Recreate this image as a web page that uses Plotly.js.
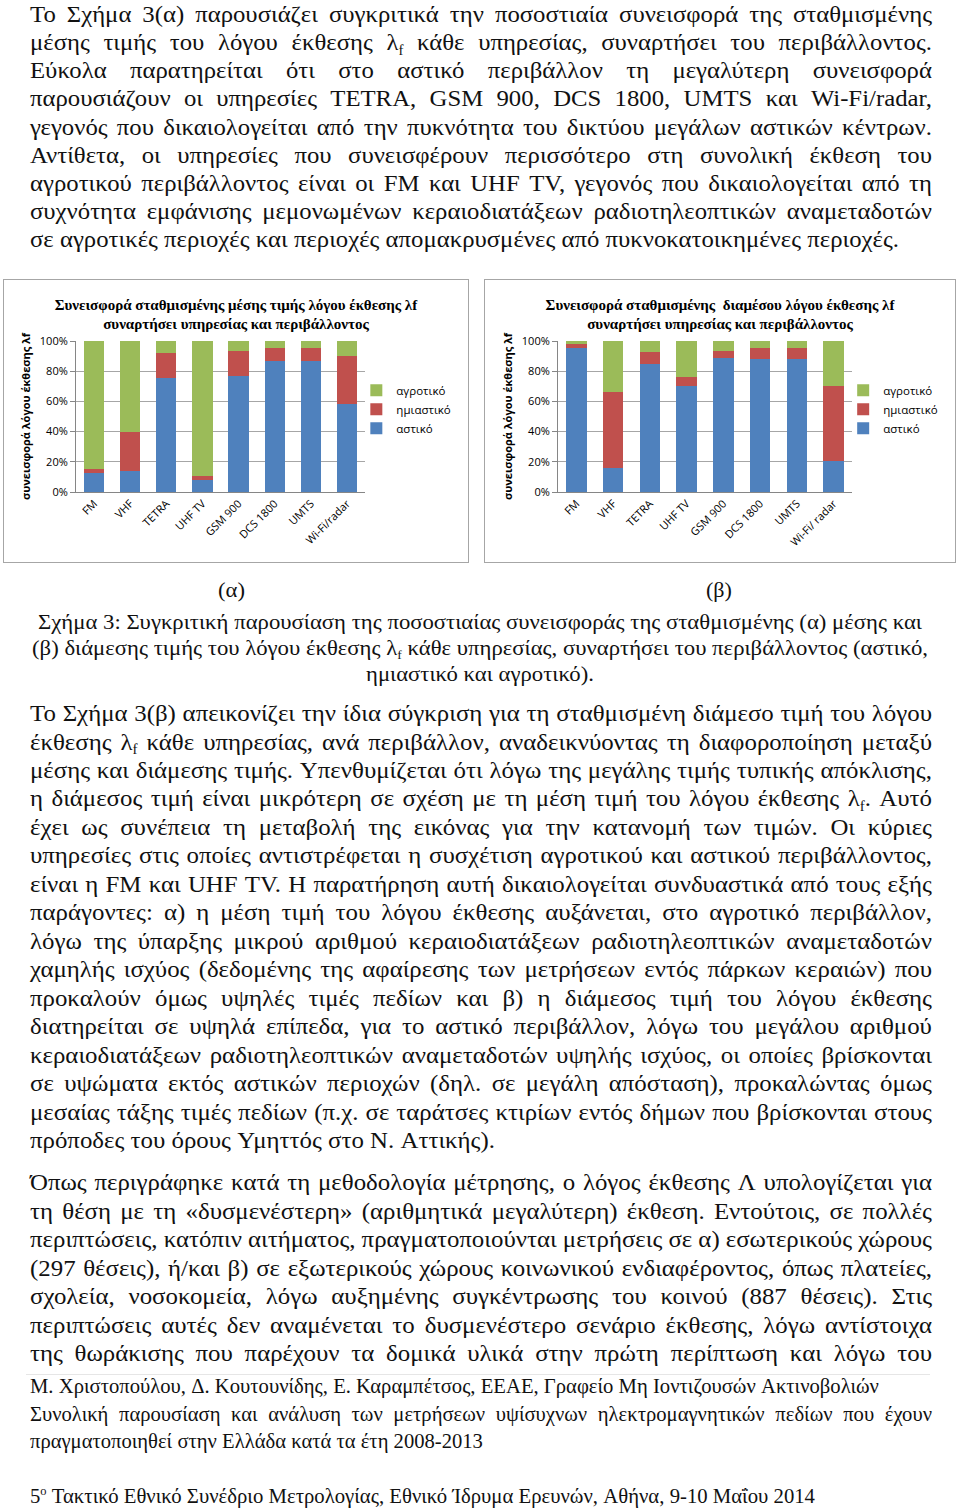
<!DOCTYPE html>
<html>
<head>
<meta charset="utf-8">
<script src="https://cdn.plot.ly/plotly-3.0.1.min.js"></script>
<style>
html,body{margin:0;padding:0;background:#fff;}
#page{position:relative;width:960px;height:1511px;overflow:hidden;background:#fff;}
#txt{position:absolute;left:0;top:0;width:960px;height:1511px;pointer-events:none;}
.chart{position:absolute;top:279px;height:282px;border:1px solid #a6a6a6;}
#chartA{left:3px;width:464px;}
#chartB{left:484px;width:470px;}
</style>
</head>
<body>
<div id="page">
<svg id="txt" xmlns="http://www.w3.org/2000/svg" width="960" height="1511"></svg>
<div id="chartA" class="chart"></div>
<div id="chartB" class="chart"></div>
</div>
<script>
// ---------------- chart data ----------------
const categoriesA = ['FM', 'VHF', 'TETRA', 'UHF TV', 'GSM 900', 'DCS 1800', 'UMTS', 'Wi-Fi/radar'];
const categoriesB = ['FM', 'VHF', 'TETRA', 'UHF TV', 'GSM 900', 'DCS 1800', 'UMTS', 'Wi-Fi/ radar'];
const seriesNames = ['αστικό', 'ημιαστικό', 'αγροτικό'];
// (α) weighted mean exposure ratio – contribution per environment (%)
const urbanA = [12.8, 13.7, 75.2, 8.0, 77.0, 86.7, 86.7, 58.0];
const semiA  = [2.7, 26.1, 17.1, 2.6, 16.4, 8.9, 8.9, 32.0];
const ruralA = [84.5, 60.2, 7.7, 89.4, 6.6, 4.4, 4.4, 10.0];
// (β) weighted median exposure ratio – contribution per environment (%)
const urbanB = [95.4, 15.7, 84.5, 70.4, 88.5, 88.0, 88.0, 20.8];
const semiB  = [2.4, 50.3, 8.0, 5.7, 4.9, 7.6, 7.1, 49.6];
const ruralB = [2.2, 34.0, 7.5, 23.9, 6.6, 4.4, 4.9, 29.6];
const yTickVals = [0, 20, 40, 60, 80, 100];
const yTickText = ['0%', '20%', '40%', '60%', '80%', '100%'];
const titleA = 'Συνεισφορά σταθμισμένης μέσης τιμής λόγου έκθεσης λf<br>συναρτήσει υπηρεσίας και περιβάλλοντος';
const titleB = 'Συνεισφορά σταθμισμένης  διαμέσου λόγου έκθεσης λf<br>συναρτήσει υπηρεσίας και περιβάλλοντος';
const yTitle = 'συνεισφορά λόγου έκθεσης λf';

const colors = ['#4F81BD', '#C0504D', '#9BBB59'];

function traces(cats, u, s, r) {
  return [u, s, r].map((vals, i) => ({
    type: 'bar', x: cats, y: vals, name: seriesNames[i],
    marker: {color: colors[i], line: {width: 0}},
    hoverinfo: 'x+y+name'
  }));
}

function layout(title, w, ml, pw) {
  return {
    width: w, height: 282,
    margin: {l: ml, r: w - ml - pw, t: 61, b: 70, pad: 0},
    paper_bgcolor: '#fff', plot_bgcolor: '#fff',
    barmode: 'stack', bargap: 0.44,
    font: {family: 'Open Sans, sans-serif', size: 11, color: '#000'},
    title: {text: '<b>' + title + '</b>', x: 0.5, xanchor: 'center', xref: 'container',
            y: 0.895, yanchor: 'top', yref: 'container',
            font: {family: 'Liberation Serif, Times New Roman, serif', size: 15, color: '#000'}},
    xaxis: {type: 'category', tickangle: -45, showline: true, linecolor: '#868686', linewidth: 1,
            ticks: '', showgrid: false, tickfont: {size: 11}, automargin: false},
    yaxis: {range: [0, 100], tickmode: 'array', tickvals: yTickVals, ticktext: yTickText,
            showgrid: true, gridcolor: '#a6a6a6',
            gridwidth: 1, showline: true, linecolor: '#868686', ticks: 'outside', ticklen: 5,
            tickcolor: '#868686', zeroline: false, automargin: false, tickfont: {size: 11},
            title: {text: '<b>' + yTitle + '</b>', standoff: 6, font: {size: 11}}},
    legend: {x: 0.97, xanchor: 'left', y: 0.77, yanchor: 'top', traceorder: 'reversed',
             font: {size: 11.5}, bgcolor: 'rgba(0,0,0,0)', itemwidth: 30},
    showlegend: true
  };
}
const cfg = {staticPlot: true, displayModeBar: false};
Plotly.newPlot('chartA', traces(categoriesA, urbanA, semiA, ruralA), layout(titleA, 464, 72, 300), cfg);
Plotly.newPlot('chartB', traces(categoriesB, urbanB, semiB, ruralB), layout(titleB, 470, 73, 305), cfg);

// ---------------- page text ----------------
const FONT = 'Liberation Serif, Times New Roman, serif';
const lines = [
 // paragraph 1
 {g:'p1', m:'J', fs:24, y:21.8, t:'Το Σχήμα 3(α) παρουσιάζει συγκριτικά την ποσοστιαία συνεισφορά της σταθμισμένης'},
 {g:'p1', m:'J', fs:24, y:50.0, t:'μέσης τιμής του λόγου έκθεσης λ{f} κάθε υπηρεσίας, συναρτήσει του περιβάλλοντος.'},
 {g:'p1', m:'J', fs:24, y:78.2, t:'Εύκολα παρατηρείται ότι στο αστικό περιβάλλον τη μεγαλύτερη συνεισφορά'},
 {g:'p1', m:'J', fs:24, y:106.4, t:'παρουσιάζουν οι υπηρεσίες TETRA, GSM 900, DCS 1800, UMTS και Wi-Fi/radar,'},
 {g:'p1', m:'J', fs:24, y:134.6, t:'γεγονός που δικαιολογείται από την πυκνότητα του δικτύου μεγάλων αστικών κέντρων.'},
 {g:'p1', m:'J', fs:24, y:162.8, t:'Αντίθετα, οι υπηρεσίες που συνεισφέρουν περισσότερο στη συνολική έκθεση του'},
 {g:'p1', m:'J', fs:24, y:191.0, t:'αγροτικού περιβάλλοντος είναι οι FM και UHF TV, γεγονός που δικαιολογείται από τη'},
 {g:'p1', m:'J', fs:24, y:219.2, t:'συχνότητα εμφάνισης μεμονωμένων κεραιοδιατάξεων ραδιοτηλεοπτικών αναμεταδοτών'},
 {g:'p1', m:'L', fs:24, y:247.4, x0:30, x1:899, cal:true, t:'σε αγροτικές περιοχές και περιοχές απομακρυσμένες από πυκνοκατοικημένες περιοχές.'},
 // captions
 {g:'c', m:'C', fs:22, y:597, x0:218, x1:245, t:'(α)'},
 {g:'c', m:'C', fs:22, y:597, x0:706, x1:732, t:'(β)'},
 {g:'c', m:'C', fs:22, y:629, x0:38, x1:922, t:'Σχήμα 3: Συγκριτική παρουσίαση της ποσοστιαίας συνεισφοράς της σταθμισμένης (α) μέσης και'},
 {g:'c', m:'C', fs:22, y:655, x0:32, x1:928, t:'(β) διάμεσης τιμής του λόγου έκθεσης λ{f} κάθε υπηρεσίας, συναρτήσει του περιβάλλοντος (αστικό,'},
 {g:'c', m:'C', fs:22, y:681, x0:366, x1:594, t:'ημιαστικό και αγροτικό).'},
 // paragraph 2
 {g:'p2', m:'J', fs:24, y:721.0, t:'Το Σχήμα 3(β) απεικονίζει την ίδια σύγκριση για τη σταθμισμένη διάμεσο τιμή του λόγου'},
 {g:'p2', m:'J', fs:24, y:749.5, t:'έκθεσης λ{f} κάθε υπηρεσίας, ανά περιβάλλον, αναδεικνύοντας τη διαφοροποίηση μεταξύ'},
 {g:'p2', m:'J', fs:24, y:777.9, t:'μέσης και διάμεσης τιμής. Υπενθυμίζεται ότι λόγω της μεγάλης τιμής τυπικής απόκλισης,'},
 {g:'p2', m:'J', fs:24, y:806.4, t:'η διάμεσος τιμή είναι μικρότερη σε σχέση με τη μέση τιμή του λόγου έκθεσης λ{f}. Αυτό'},
 {g:'p2', m:'J', fs:24, y:834.9, t:'έχει ως συνέπεια τη μεταβολή της εικόνας για την κατανομή των τιμών. Οι κύριες'},
 {g:'p2', m:'J', fs:24, y:863.4, t:'υπηρεσίες στις οποίες αντιστρέφεται η συσχέτιση αγροτικού και αστικού περιβάλλοντος,'},
 {g:'p2', m:'J', fs:24, y:891.8, t:'είναι η FM και UHF TV. Η παρατήρηση αυτή δικαιολογείται συνδυαστικά από τους εξής'},
 {g:'p2', m:'J', fs:24, y:920.3, t:'παράγοντες: α) η μέση τιμή του λόγου έκθεσης αυξάνεται, στο αγροτικό περιβάλλον,'},
 {g:'p2', m:'J', fs:24, y:948.8, t:'λόγω της ύπαρξης μικρού αριθμού κεραιοδιατάξεων ραδιοτηλεοπτικών αναμεταδοτών'},
 {g:'p2', m:'J', fs:24, y:977.2, t:'χαμηλής ισχύος (δεδομένης της αφαίρεσης των μετρήσεων εντός πάρκων κεραιών) που'},
 {g:'p2', m:'J', fs:24, y:1005.7, t:'προκαλούν όμως υψηλές τιμές πεδίων και β) η διάμεσος τιμή του λόγου έκθεσης'},
 {g:'p2', m:'J', fs:24, y:1034.2, t:'διατηρείται σε υψηλά επίπεδα, για το αστικό περιβάλλον, λόγω του μεγάλου αριθμού'},
 {g:'p2', m:'J', fs:24, y:1062.6, t:'κεραιοδιατάξεων ραδιοτηλεοπτικών αναμεταδοτών υψηλής ισχύος, οι οποίες βρίσκονται'},
 {g:'p2', m:'J', fs:24, y:1091.1, t:'σε υψώματα εκτός αστικών περιοχών (δηλ. σε μεγάλη απόσταση), προκαλώντας όμως'},
 {g:'p2', m:'J', fs:24, y:1119.6, t:'μεσαίας τάξης τιμές πεδίων (π.χ. σε ταράτσες κτιρίων εντός δήμων που βρίσκονται στους'},
 {g:'p2', m:'L', fs:24, y:1148.0, x0:30, x1:495, cal:true, t:'πρόποδες του όρους Υμηττός στο Ν. Αττικής).'},
 // paragraph 3
 {g:'p2', m:'J', fs:24, y:1190.0, t:'Όπως περιγράφηκε κατά τη μεθοδολογία μέτρησης, ο λόγος έκθεσης Λ υπολογίζεται για'},
 {g:'p2', m:'J', fs:24, y:1218.5, t:'τη θέση με τη «δυσμενέστερη» (αριθμητικά μεγαλύτερη) έκθεση. Εντούτοις, σε πολλές'},
 {g:'p2', m:'J', fs:24, y:1247.0, t:'περιπτώσεις, κατόπιν αιτήματος, πραγματοποιούνται μετρήσεις σε α) εσωτερικούς χώρους'},
 {g:'p2', m:'J', fs:24, y:1275.5, t:'(297 θέσεις), ή/και β) σε εξωτερικούς χώρους κοινωνικού ενδιαφέροντος, όπως πλατείες,'},
 {g:'p2', m:'J', fs:24, y:1304.0, t:'σχολεία, νοσοκομεία, λόγω αυξημένης συγκέντρωσης του κοινού (887 θέσεις). Στις'},
 {g:'p2', m:'J', fs:24, y:1332.5, t:'περιπτώσεις αυτές δεν αναμένεται το δυσμενέστερο σενάριο έκθεσης, λόγω αντίστοιχα'},
 {g:'p2', m:'J', fs:24, y:1361.0, t:'της θωράκισης που παρέχουν τα δομικά υλικά στην πρώτη περίπτωση και λόγω του'},
 // footer
 {g:'f', m:'L', fs:21, y:1393, x0:30, x1:879, cal:true, t:'Μ. Χριστοπούλου, Δ. Κουτουνίδης, Ε. Καραμπέτσος, ΕΕΑΕ, Γραφείο Μη Ιοντιζουσών Ακτινοβολιών'},
 {g:'f', m:'J', fs:21, y:1421, t:'Συνολική παρουσίαση και ανάλυση των μετρήσεων υψίσυχνων ηλεκτρομαγνητικών πεδίων που έχουν'},
 {g:'f', m:'L', fs:21, y:1448, x0:30, x1:483, cal:true, t:'πραγματοποιηθεί στην Ελλάδα κατά τα έτη 2008-2013'},
 {g:'f', m:'L', fs:21, y:1503, x0:30, x1:815, t:'5{^o} Τακτικό Εθνικό Συνέδριο Μετρολογίας, Εθνικό Ίδρυμα Ερευνών, Αθήνα, 9-10 Μαΐου 2014'}
];

const NS = 'http://www.w3.org/2000/svg';
const svg = document.getElementById('txt');

function segs(word) {
  const out = []; const re = /\{(\^?)([^}]*)\}/g; let last = 0, m;
  while ((m = re.exec(word))) {
    if (m.index > last) out.push({t: word.slice(last, m.index), k: 'n'});
    out.push({t: m[2], k: m[1] ? 'sup' : 'sub'});
    last = re.lastIndex;
  }
  if (last < word.length) out.push({t: word.slice(last), k: 'n'});
  return out;
}
function makeWord(word, fs, parent) {
  const el = document.createElementNS(NS, 'text');
  el.setAttribute('font-family', FONT);
  el.setAttribute('font-size', fs);
  el.setAttribute('fill', '#111');
  let off = 0;
  segs(word).forEach(s => {
    const ts = document.createElementNS(NS, 'tspan');
    ts.textContent = s.t;
    let target = 0;
    if (s.k === 'sub') { ts.setAttribute('font-size', fs * 0.6); target = fs * 0.2; }
    if (s.k === 'sup') { ts.setAttribute('font-size', fs * 0.6); target = -fs * 0.38; }
    if (target - off !== 0) ts.setAttribute('dy', target - off);
    off = target;
    el.appendChild(ts);
  });
  parent.appendChild(el);
  return el;
}
function build(L) {
  const g = document.createElementNS(NS, 'g');
  svg.appendChild(g);
  const words = L.t.split(' ');
  const els = words.map(w => makeWord(w, L.fs, g));
  const widths = els.map(e => e.getComputedTextLength());
  const sp = 0.25 * L.fs;
  const sum = widths.reduce((a, b) => a + b, 0);
  return {g, els, widths, natural: sum + sp * (words.length - 1), sp, sum};
}
const built = lines.map(build);
// horizontal scale per group from calibration lines
const hsum = {}, hcnt = {};
lines.forEach((L, i) => {
  if (L.cal) {
    const s = (L.x1 - L.x0) / built[i].natural;
    hsum[L.g] = (hsum[L.g] || 0) + s; hcnt[L.g] = (hcnt[L.g] || 0) + 1;
  }
});
lines.forEach((L, i) => {
  const B = built[i];
  let s, gap, x0;
  if (L.m === 'J') {
    s = hsum[L.g] / hcnt[L.g];
    x0 = 30;
    gap = ((932 - 30) / s - B.sum) / Math.max(1, B.els.length - 1);
  } else {
    s = (L.x1 - L.x0) / B.natural;
    x0 = L.x0;
    gap = B.sp;
  }
  let x = 0;
  B.els.forEach((e, k) => { e.setAttribute('x', x); e.setAttribute('y', 0); x += B.widths[k] + gap; });
  B.g.setAttribute('transform', 'translate(' + x0 + ',' + L.y + ') scale(' + s + ',1)');
});
// faint rule above footer
const rule = document.createElementNS(NS, 'line');
rule.setAttribute('x1', 26); rule.setAttribute('x2', 930);
rule.setAttribute('y1', 1374.5); rule.setAttribute('y2', 1374.5);
rule.setAttribute('stroke', '#e6e6e6'); rule.setAttribute('stroke-width', 1);
svg.appendChild(rule);
</script>
</body>
</html>
